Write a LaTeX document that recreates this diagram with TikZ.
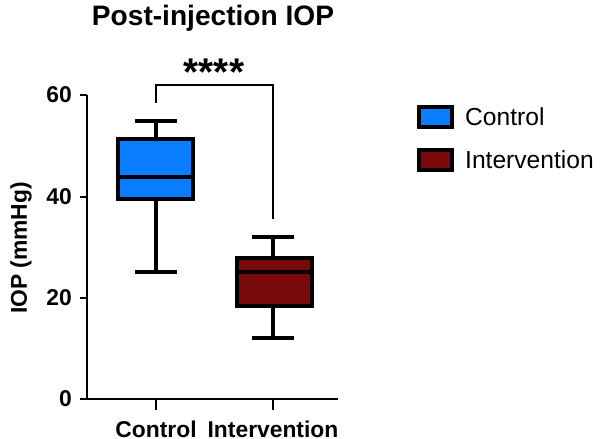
\documentclass[tikz,border=0pt]{standalone}
\usepackage{fontspec}
\setmainfont{Liberation Sans}
\usetikzlibrary{positioning}
\definecolor{ctrlblue}{HTML}{0A7DFF}
\definecolor{intred}{HTML}{7A0A0A}
\tikzset{>=stealth,
  axis/.style={line width=1.6pt},
  boxpart/.style={line width=2pt},
  ticklab/.style={font=\bfseries\fontsize{13}{14}\selectfont}}

\begin{document}
\begin{tikzpicture}[x=0.02cm,y=-0.02cm]
      \useasboundingbox (0,0) rectangle (600,439);
      % axes
      \draw[axis] (87,95) -- (87,399) -- (338,399);
      \foreach \v/\py in {0/399,20/298,40/197,60/95} {
        \draw[axis] (80,\py) -- (87,\py);
        \node[ticklab,left] at (78,\py) {\v};
      }
      \foreach \px in {156,273} \draw[axis] (\px,399) -- (\px,410);
      \node[ticklab] (xc) at (156,429) {Control};
      \node[ticklab] (xi) at (273,429) {Intervention};
      \node[ticklab,rotate=90] (ylab) at (21,248) {IOP (mmHg)};
      \node[font=\bfseries\fontsize{16}{17}\selectfont] (title) at (213,18) {Post-injection IOP};
      % control box
      \draw[boxpart] (156,121) -- (156,139) (156,199) -- (156,272);
      \draw[boxpart] (135,121) -- (177,121) (135,272) -- (177,272);
      \draw[boxpart,fill=ctrlblue] (118,139) rectangle (193,199);
      \draw[boxpart] (118,177) -- (193,177);
      % intervention box
      \draw[boxpart] (273,237) -- (273,258) (273,306) -- (273,338);
      \draw[boxpart] (252,237) -- (294,237) (252,338) -- (294,338);
      \draw[boxpart,fill=intred] (237,258) rectangle (312,306);
      \draw[boxpart] (237,272) -- (312,272);
      % significance
      \coordinate (sa) at (156,103);
      \coordinate (sb) at (273,219);
      \draw[line width=1.2pt] (sa) -- (156,85) -- (273,85) -- (sb);
      \node[font=\bfseries\fontsize{22}{23}\selectfont] (stars) at (214,72) {****};
      % legend
      \draw[boxpart,fill=ctrlblue] (419,107) rectangle (452,127);
      \node[right,font=\fontsize{14}{15}\selectfont] (lc) at (459,117) {Control};
      \draw[boxpart,fill=intred] (419,150) rectangle (452,170);
      \node[right,font=\fontsize{14}{15}\selectfont] (li) at (459,160) {Intervention};
    \end{tikzpicture}
\end{document}
